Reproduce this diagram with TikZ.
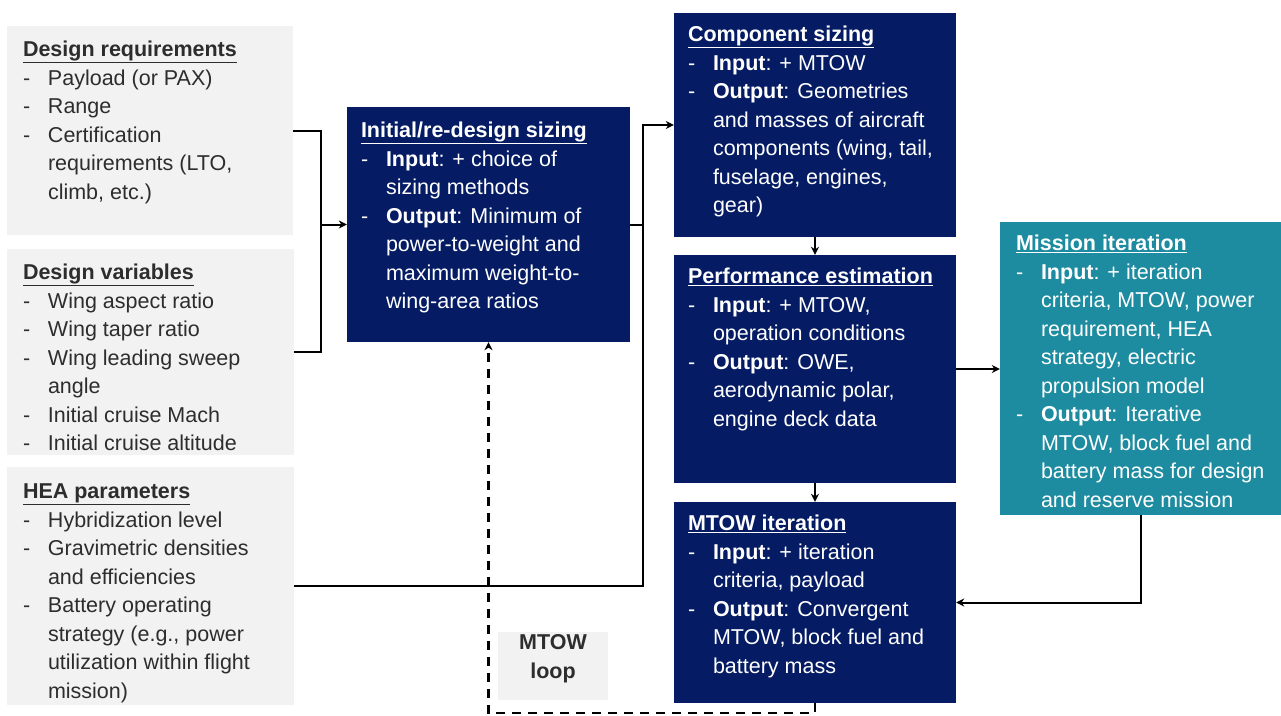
\documentclass[tikz,border=0pt]{standalone}
\usepackage{fontspec}
\setmainfont{Liberation Sans}
\usepackage{tikz}
\usetikzlibrary{arrows.meta,positioning,fit}
\usepackage{xcolor}

\definecolor{navyblue}{RGB}{5,28,100}
\definecolor{missionteal}{RGB}{30,140,160}
\definecolor{boxgrey}{RGB}{242,242,242}
\definecolor{textgrey}{RGB}{45,45,45}

\newcommand{\boxfont}{\fontsize{21.5}{28.5}\selectfont}
\newcommand{\itm}{\makebox[25pt][l]{-}}
\newcommand{\cont}{\hspace*{25pt}}
\newcommand{\ttl}[1]{\underline{\textbf{#1}}}

\begin{document}
\begin{tikzpicture}[x=1pt,y=-1pt]
	\useasboundingbox (0,0) rectangle (1281,715);
	% boxes
	\begin{scope}[every node/.style={inner sep=0pt,draw=none}]
		\node[fill=boxgrey,fit={(7,26) (293,235)}] (req) {};
		\node[fill=boxgrey,fit={(7,249) (294,455)}] (var) {};
		\node[fill=boxgrey,fit={(7,467) (294,705)}] (hea) {};
		\node[fill=navyblue,fit={(347,107) (630,342)}] (init) {};
		\node[fill=navyblue,fit={(674,13) (956,237)}] (comp) {};
		\node[fill=navyblue,fit={(674,255) (956,483)}] (perf) {};
		\node[fill=navyblue,fit={(674,502) (956,703)}] (mtow) {};
		\node[fill=missionteal,fit={(1000,222) (1281,515)}] (miss) {};
		\node[fill=boxgrey,fit={(498,632) (608,700)},align=center,font=\boxfont\bfseries,text=textgrey] (loop) {MTOW\\loop};
	\end{scope}
	% box texts
	\begin{scope}[every node/.style={anchor=north west,inner sep=0pt,align=left,font=\boxfont,text=white}]
		\node[text=textgrey] (reqtext) at ([shift={(16,15)}]req.north west) {\ttl{Design requirements}\\
			\itm Payload (or PAX)\\
			\itm Range\\
			\itm Certification\\
			\cont requirements (LTO,\\
			\cont climb, etc.)};
		\node[text=textgrey] (vartext) at ([shift={(16,15)}]var.north west) {\ttl{Design variables}\\
			\itm Wing aspect ratio\\
			\itm Wing taper ratio\\
			\itm Wing leading sweep\\
			\cont angle\\
			\itm Initial cruise Mach\\
			\itm Initial cruise altitude};
		\node[text=textgrey] (heatext) at ([shift={(16,17)}]hea.north west) {\ttl{HEA parameters}\\
			\itm Hybridization level\\
			\itm Gravimetric densities\\
			\cont and efficiencies\\
			\itm Battery operating\\
			\cont strategy (e.g., power\\
			\cont utilization within flight\\
			\cont mission)};
		\node (inittext) at ([shift={(14,15)}]init.north west) {\ttl{Initial/re-design sizing}\\
			\itm\textbf{Input}: + choice of\\
			\cont sizing methods\\
			\itm\textbf{Output}: Minimum of\\
			\cont power-to-weight and\\
			\cont maximum weight-to-\\
			\cont wing-area ratios};
		\node (comptext) at ([shift={(14,13)}]comp.north west) {\ttl{Component sizing}\\
			\itm\textbf{Input}: + MTOW\\
			\itm\textbf{Output}: Geometries\\
			\cont and masses of aircraft\\
			\cont components (wing, tail,\\
			\cont fuselage, engines,\\
			\cont gear)};
		\node (perftext) at ([shift={(14,13)}]perf.north west) {\ttl{Performance estimation}\\
			\itm\textbf{Input}: + MTOW,\\
			\cont operation conditions\\
			\itm\textbf{Output}: OWE,\\
			\cont aerodynamic polar,\\
			\cont engine deck data};
		\node (mtowtext) at ([shift={(14,13)}]mtow.north west) {\ttl{MTOW iteration}\\
			\itm\textbf{Input}: + iteration\\
			\cont criteria, payload\\
			\itm\textbf{Output}: Convergent\\
			\cont MTOW, block fuel and\\
			\cont battery mass};
		\node (misstext) at ([shift={(16,13)}]miss.north west) {\ttl{Mission iteration}\\
			\itm\textbf{Input}: + iteration\\
			\cont criteria, MTOW, power\\
			\cont requirement, HEA\\
			\cont strategy, electric\\
			\cont propulsion model\\
			\itm\textbf{Output}: Iterative\\
			\cont MTOW, block fuel and\\
			\cont battery mass for design\\
			\cont and reserve mission};
	\end{scope}
	% connectors
	\begin{scope}[line width=2pt,>={Stealth[length=8pt,width=8pt]}]
		\draw (req.east) -- ++(28,0) coordinate (join1) |- (var.east);
		\draw[->] (join1 |- init.west) -- (init.west);
		\draw[->] (init.east) -- ++(13,0) coordinate (join2) |- (comp.west);
		\draw (hea.east) -| (join2);
		\draw[->] (comp.south) -- (perf.north);
		\draw[->] (perf.south) -- (mtow.north);
		\draw[->] (perf.east) -- (perf.east -| miss.west);
		\draw[->] (miss.south) |- (mtow.east);
		\draw[->,line width=2.5pt,dash pattern=on 9pt off 7pt] (mtow.south) -- ++(0,10) -| (init.south);
	\end{scope}
\end{tikzpicture}
\end{document}
